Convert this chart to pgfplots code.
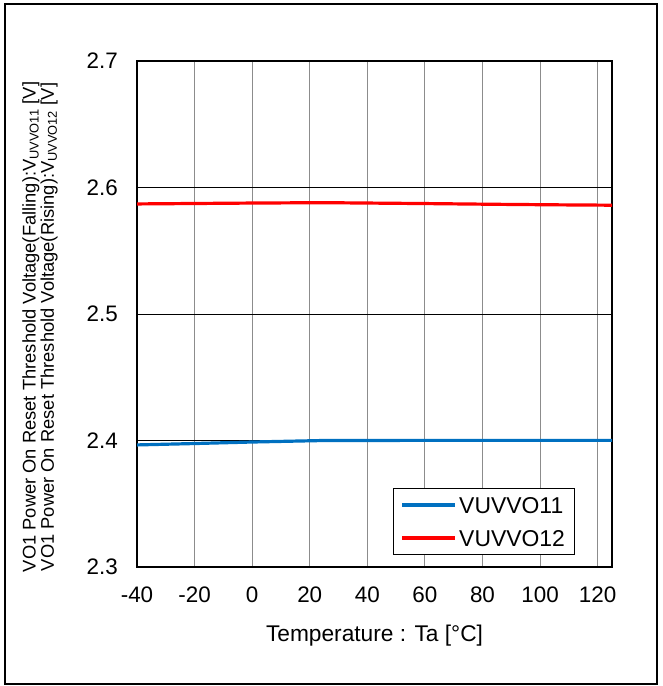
\documentclass[border=0pt]{standalone}
\usepackage{fontspec}
\setmainfont{Liberation Sans}
\usepackage{pgfplots}
\pgfplotsset{compat=1.18}
\definecolor{vblue}{RGB}{0,112,192}
\definecolor{vred}{RGB}{255,0,0}
\begin{document}
\begin{tikzpicture}[x=1bp,y=1bp]
\useasboundingbox (0,0) rectangle (663,686);
\draw[line width=1.5bp,black] (5,2) rectangle (657,682);
\begin{axis}[
  at={(137bp,119bp)}, anchor=south west,
  scale only axis, width=475bp, height=506bp,
  xmin=-40, xmax=125, ymin=2.3, ymax=2.7,
  xtick={-40,-20,0,20,40,60,80,100,120},
  xticklabels={-40,-20,0,20,40,60,80,100,120},
  ytick={2.3,2.4,2.5,2.6,2.7},
  yticklabels={2.3,2.4,2.5,2.6,2.7},
  major tick length=0pt,
  axis line style={line width=2.8bp, black},
  xmajorgrids, ymajorgrids,
  x grid style={line width=1bp, gray!90},
  y grid style={line width=0.9bp, black},
  ticklabel style={font=\fontsize{22.5}{26}\selectfont},
  xticklabel style={inner sep=0pt, anchor=north, yshift=-20bp},
  yticklabel style={inner sep=0pt, anchor=east, xshift=-19bp},
  xlabel={Temperature : Ta [°C]},
  xlabel style={font=\fontsize{22.8}{26}\selectfont, at={(axis description cs:0.5,0)}, anchor=base, yshift=-75bp, inner sep=0pt},
  legend style={at={(rel axis cs:0.539,0.0237)}, anchor=south west, draw=black, line width=1bp,
    font=\fontsize{23}{26}\selectfont, inner xsep=7bp, inner ysep=6bp, row sep=12bp,
    nodes={inner sep=2.5bp, text height=16bp, text depth=0bp}},
  legend cell align=left,
  legend image code/.code={\draw[#1] (0bp,0bp) -- (53bp,0bp);},
  clip=true,
]
\addplot[vblue, line width=3.2bp] coordinates {(-40,2.3965) (-20,2.3976) (0,2.3988) (25,2.4000) (60,2.4001) (85,2.4001) (125,2.4001)};
\addlegendentry{VUVVO11}
\addplot[vred, line width=3.2bp] coordinates {(-40,2.5870) (0,2.5877) (25,2.5880) (60,2.5873) (85,2.5867) (105,2.5863) (125,2.5860)};
\addlegendentry{VUVVO12}
\end{axis}
\node[rotate=90, align=center, font=\fontsize{18.4}{18.5}\selectfont] at (40,359)
  {VO1 Power On Reset Threshold Voltage(Falling):V\textsubscript{UVVO11} [V]\\
   VO1 Power On Reset Threshold Voltage(Rising):V\textsubscript{UVVO12} [V]};
\end{tikzpicture}
\end{document}
